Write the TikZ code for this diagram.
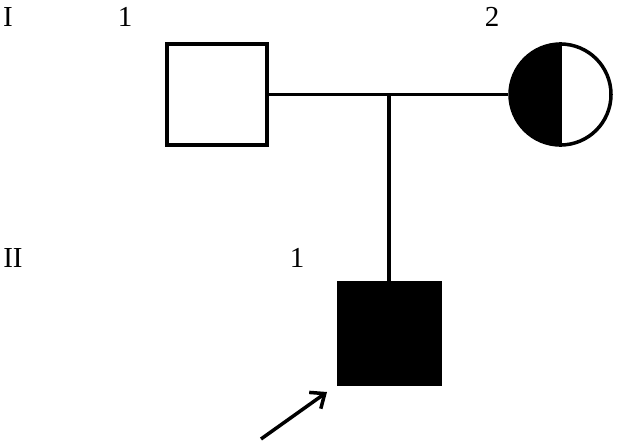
\documentclass[tikz,border=0pt]{standalone}
\usepackage{fontspec}
\setmainfont{Liberation Serif}
\usetikzlibrary{arrows.meta}
\begin{document}
\begin{tikzpicture}[x=1pt,y=-1pt,
  lbl/.style={anchor=base,inner sep=0pt,font=\fontsize{29}{34}\selectfont},
  sq/.style={draw,line width=4pt,minimum size=100pt,inner sep=0pt,rectangle},
  ci/.style={draw,line width=3.5pt,minimum size=101pt,inner sep=0pt,circle},
  ln/.style={line width=3.5pt}]
\useasboundingbox (0,0) rectangle (617,444);
\node[lbl] (gI) at (8,27) {I};
\node[lbl] (gII) at (13,267) {II};
\node[lbl] (n11) at (125,27) {1};
\node[lbl] (n12) at (492,27) {2};
\node[lbl] (n21) at (297,267) {1};
\node[sq] (f) at (217,94.5) {};
\fill (560.5,94.5) ++(90:-50.5) arc[start angle=-90,end angle=-270,radius=50.5] -- cycle;
\node[ci] (m) at (560.5,94.5) {};
\draw[line width=3pt] (m.north) -- (m.south);
\node[sq,fill=black,minimum size=104pt,line width=1pt] (p) at (389,333.5) {};
\draw[ln] (f.east) -- (m.west);
\coordinate (j) at (389,94.5);
\draw[ln] (j) -- (p.north);
\coordinate (a0) at (261,439);
\coordinate (a1) at (327,392);
\draw[ln,-{Straight Barb[length=12pt,width=20pt,line width=3.5pt]}] (a0) -- (a1);
\end{tikzpicture}
\end{document}
